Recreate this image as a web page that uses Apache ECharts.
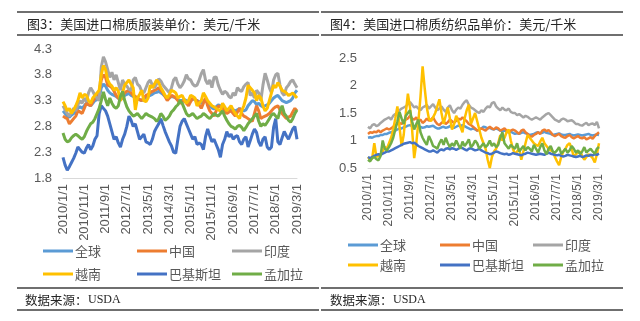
<!DOCTYPE html>
<html>
<head>
<meta charset="utf-8">
<script src="https://cdn.jsdelivr.net/npm/echarts@6/dist/echarts.min.js"></script>
<style>
  html, body { margin: 0; padding: 0; background: #fff; }
  #chart { width: 640px; height: 321px; }
</style>
</head>
<body>
<div id="chart"></div>
<script>
// Monthly categories, 2010/1 to 2019/3
const startYear = 2010, startMonth = 1, monthCount = 111;
const months = [];
for (let i = 0; i < monthCount; i++) {
  const y = startYear + Math.floor((startMonth - 1 + i) / 12);
  const m = ((startMonth - 1 + i) % 12) + 1;
  months.push(y + '/' + m + '/1');
}

const seriesNames = ['全球', '中国', '印度', '越南', '巴基斯坦', '孟加拉'];
const seriesColors = ['#5B9BD5', '#ED7D31', '#A5A5A5', '#FFC000', '#4472C4', '#70AD47'];

const titleApparel = '图3：美国进口棉质服装单价：美元/千米';
const titleTextile = '图4：美国进口棉质纺织品单价：美元/千米';
const sourceLabel = '数据来源：';
const sourceName = 'USDA';

// Fig.3 apparel unit prices (USD)
const apparelGlobal = [
  3.10, 3.05, 3.00, 2.98, 3.02, 3.05, 3.08, 3.15, 3.18, 3.15,
  3.20, 3.25, 3.22, 3.20, 3.25, 3.30, 3.32, 3.35, 3.55, 3.62,
  3.58, 3.50, 3.45, 3.42, 3.40, 3.38, 3.35, 3.32, 3.36, 3.40,
  3.42, 3.44, 3.40, 3.38, 3.35, 3.33, 3.32, 3.30, 3.33, 3.36,
  3.38, 3.40, 3.42, 3.45, 3.46, 3.48, 3.45, 3.42, 3.38, 3.34,
  3.36, 3.38, 3.37, 3.35, 3.32, 3.30, 3.30, 3.32, 3.30, 3.28,
  3.30, 3.33, 3.32, 3.30, 3.28, 3.25, 3.28, 3.32, 3.26, 3.20,
  3.16, 3.14, 3.18, 3.22, 3.20, 3.18, 3.15, 3.12, 3.14, 3.15,
  3.12, 3.10, 3.12, 3.15, 3.12, 3.10, 3.12, 3.20, 3.25, 3.30,
  3.28, 3.22, 3.25, 3.20, 3.18, 3.20, 3.22, 3.25, 3.30, 3.35,
  3.38, 3.40, 3.35, 3.30, 3.28, 3.26, 3.28, 3.30, 3.35, 3.45, 3.50
];
const apparelChina = [
  3.00, 2.97, 2.95, 2.85, 2.90, 2.95, 3.00, 3.10, 3.08, 3.05,
  3.15, 3.25, 3.22, 3.20, 3.28, 3.35, 3.40, 3.45, 3.70, 3.80,
  3.75, 3.60, 3.58, 3.55, 3.48, 3.40, 3.35, 3.30, 3.38, 3.45,
  3.48, 3.50, 3.45, 3.40, 3.38, 3.35, 3.32, 3.30, 3.35, 3.40,
  3.42, 3.45, 3.48, 3.50, 3.52, 3.55, 3.50, 3.45, 3.38, 3.30,
  3.35, 3.40, 3.38, 3.35, 3.30, 3.25, 3.28, 3.30, 3.25, 3.20,
  3.28, 3.35, 3.32, 3.30, 3.22, 3.15, 3.25, 3.35, 3.20, 3.10,
  3.05, 3.00, 3.10, 3.20, 3.18, 3.15, 3.10, 3.05, 3.08, 3.10,
  3.05, 3.00, 3.08, 3.15, 3.05, 3.00, 2.98, 2.95, 2.92, 2.90,
  3.05, 3.20, 3.10, 2.95, 2.98, 3.00, 3.02, 3.05, 3.10, 3.15,
  3.18, 3.20, 3.12, 3.05, 3.00, 2.95, 2.98, 3.00, 3.08, 3.15, 3.10
];
const apparelIndia = [
  3.20, 3.12, 3.05, 3.00, 3.08, 3.15, 3.10, 3.22, 3.30, 3.25,
  3.35, 3.28, 3.45, 3.55, 3.48, 3.40, 3.35, 3.30, 3.95, 4.15,
  4.05, 3.90, 3.75, 3.85, 3.70, 3.80, 3.65, 3.50, 3.70, 3.62,
  3.58, 3.52, 3.50, 3.70, 3.75, 3.62, 3.58, 3.48, 3.45, 3.55,
  3.65, 3.70, 3.60, 3.55, 3.62, 3.72, 3.68, 3.60, 3.55, 3.50,
  3.45, 3.55, 3.70, 3.75, 3.62, 3.55, 3.60, 3.68, 3.80, 3.72,
  3.70, 3.62, 3.58, 3.60, 3.70, 3.82, 3.90, 3.70, 3.62, 3.70,
  3.55, 3.75, 3.76, 3.60, 3.50, 3.42, 3.48, 3.45, 3.38, 3.35,
  3.45, 3.40, 3.55, 3.50, 3.48, 3.57, 3.62, 3.65, 3.40, 3.45,
  3.35, 3.50, 3.45, 3.30, 3.60, 3.83, 3.70, 3.55, 3.45, 3.70,
  3.80, 3.83, 3.60, 3.45, 3.40, 3.55, 3.60, 3.67, 3.70, 3.62, 3.55
];
const apparelVietnam = [
  3.28, 3.20, 3.10, 3.15, 3.05, 3.12, 3.20, 3.30, 3.45, 3.35,
  3.42, 3.40, 3.30, 3.25, 3.35, 3.40, 3.45, 3.50, 3.80, 3.98,
  3.90, 3.70, 3.62, 3.58, 3.50, 3.55, 3.48, 3.30, 3.45, 3.60,
  3.65, 3.70, 3.62, 3.55, 3.12, 3.35, 3.42, 3.50, 3.30, 3.28,
  3.35, 3.60, 3.55, 3.62, 3.70, 3.65, 3.55, 3.48, 3.40, 3.35,
  3.42, 3.50, 3.48, 3.45, 3.35, 3.38, 3.40, 3.32, 3.25, 3.30,
  3.40, 3.38, 3.35, 3.20, 3.25, 3.30, 3.45, 3.38, 3.30, 3.25,
  3.20, 3.18, 3.15, 3.12, 3.10, 3.25, 3.18, 3.10, 3.15, 3.20,
  3.12, 3.05, 3.00, 2.95, 3.10, 3.20, 3.35, 3.60, 3.55, 3.50,
  3.45, 3.30, 3.40, 3.35, 3.20, 3.10, 3.15, 3.30, 3.45, 3.60,
  3.55, 3.65, 3.58, 3.50, 3.48, 3.45, 3.40, 3.42, 3.45, 3.40, 3.35
];
const apparelPakistan = [
  2.20, 2.05, 1.95, 2.02, 2.10, 2.18, 2.28, 2.40, 2.35, 2.30,
  2.28, 2.38, 2.45, 2.35, 2.42, 2.55, 2.62, 3.05, 3.20, 3.15,
  3.10, 3.00, 2.85, 2.70, 2.55, 2.60, 2.48, 2.40, 2.55, 2.65,
  2.80, 3.00, 2.92, 2.80, 2.85, 2.70, 2.55, 2.60, 2.65, 2.50,
  2.48, 2.45, 2.55, 2.70, 2.78, 2.85, 2.95, 2.82, 2.70, 2.60,
  2.50, 2.42, 2.30, 2.28, 2.55, 2.80, 2.90, 2.95, 2.85, 2.75,
  2.65, 2.55, 2.60, 2.45, 2.48, 2.45, 2.35, 2.60, 2.75, 2.62,
  2.50, 2.55, 2.45, 2.35, 2.20, 2.45, 2.55, 2.70, 2.60, 2.65,
  2.55, 2.60, 2.62, 2.50, 2.45, 2.55, 2.60, 2.40, 2.52, 2.65,
  2.75, 2.68, 2.50, 2.42, 2.55, 2.60, 2.40, 2.35, 2.40, 2.78,
  2.95, 2.50, 2.45, 2.58, 2.70, 2.62, 2.55, 2.65, 2.75, 2.80, 2.55
];
const apparelBangladesh = [
  2.67, 2.55, 2.50, 2.52, 2.58, 2.62, 2.65, 2.62, 2.58, 2.55,
  2.60, 2.70, 2.78, 2.85, 2.88, 2.95, 3.05, 3.15, 3.30, 3.47,
  3.32, 3.20, 3.35, 3.25, 3.18, 3.15, 3.20, 3.38, 3.48, 3.30,
  3.18, 3.10, 3.05, 3.00, 3.02, 3.05, 3.00, 2.95, 3.00, 3.05,
  3.02, 3.00, 2.98, 2.95, 2.90, 2.95, 3.05, 3.00, 2.92, 2.95,
  3.00, 3.08, 3.12, 3.18, 3.22, 3.30, 3.25, 3.15, 3.05, 3.00,
  3.02, 3.05, 3.00, 2.95, 2.98, 3.00, 3.05, 3.02, 2.98, 2.95,
  3.00, 3.05, 3.02, 3.00, 3.05, 3.10, 3.00, 2.92, 2.85, 2.80,
  2.78, 2.75, 2.80, 2.82, 2.78, 2.72, 2.78, 2.85, 2.90, 2.95,
  3.00, 3.05, 2.90, 2.80, 2.85, 2.82, 2.88, 2.95, 3.02, 3.05,
  3.00, 2.95, 3.10, 3.20, 3.05, 3.00, 2.92, 2.88, 2.95, 3.05, 3.12
];

// Fig.4 textile unit prices (USD)
const textileGlobal = [
  1.05, 1.06, 1.05, 1.07, 1.08, 1.08, 1.10, 1.10, 1.12, 1.12,
  1.14, 1.15, 1.16, 1.18, 1.20, 1.22, 1.22, 1.24, 1.25, 1.27,
  1.28, 1.26, 1.25, 1.27, 1.24, 1.25, 1.23, 1.24, 1.26, 1.25,
  1.26, 1.27, 1.24, 1.22, 1.22, 1.24, 1.25, 1.23, 1.24, 1.26,
  1.25, 1.23, 1.25, 1.27, 1.26, 1.28, 1.26, 1.24, 1.22, 1.20,
  1.22, 1.20, 1.18, 1.20, 1.22, 1.25, 1.24, 1.22, 1.23, 1.21,
  1.20, 1.22, 1.20, 1.18, 1.17, 1.18, 1.16, 1.15, 1.16, 1.14,
  1.12, 1.13, 1.12, 1.14, 1.15, 1.13, 1.12, 1.10, 1.11, 1.12,
  1.14, 1.15, 1.13, 1.14, 1.16, 1.14, 1.13, 1.12, 1.10, 1.11,
  1.12, 1.13, 1.11, 1.10, 1.10, 1.11, 1.12, 1.10, 1.09, 1.10,
  1.11, 1.10, 1.09, 1.10, 1.11, 1.12, 1.10, 1.09, 1.10, 1.11, 1.10
];
const textileChina = [
  1.12, 1.15, 1.14, 1.16, 1.15, 1.18, 1.15, 1.18, 1.20, 1.22,
  1.20, 1.22, 1.25, 1.28, 1.30, 1.32, 1.30, 1.35, 1.38, 1.40,
  1.45, 1.40, 1.38, 1.42, 1.35, 1.38, 1.32, 1.35, 1.40, 1.36,
  1.38, 1.42, 1.35, 1.30, 1.28, 1.32, 1.35, 1.30, 1.33, 1.38,
  1.35, 1.32, 1.36, 1.40, 1.38, 1.42, 1.38, 1.35, 1.30, 1.28,
  1.25, 1.22, 1.18, 1.20, 1.22, 1.20, 1.18, 1.22, 1.25, 1.22,
  1.20, 1.24, 1.22, 1.18, 1.20, 1.22, 1.18, 1.15, 1.18, 1.20,
  1.18, 1.15, 1.12, 1.18, 1.20, 1.15, 1.12, 1.08, 1.07, 1.10,
  1.12, 1.15, 1.12, 1.18, 1.20, 1.17, 1.19, 1.15, 1.10, 1.08,
  1.10, 1.12, 1.08, 1.06, 1.05, 1.08, 1.10, 1.06, 1.04, 1.06,
  1.08, 1.05, 1.04, 1.06, 1.02, 1.04, 1.06, 1.03, 1.08, 1.12, 1.15
];
const textileIndia = [
  1.25, 1.22, 1.28, 1.30, 1.26, 1.28, 1.32, 1.35, 1.38, 1.40,
  1.42, 1.38, 1.45, 1.48, 1.50, 1.55, 1.58, 1.60, 1.62, 1.66,
  1.70, 1.65, 1.60, 1.62, 1.58, 1.55, 1.60, 1.62, 1.65, 1.58,
  1.62, 1.66, 1.60, 1.55, 1.58, 1.62, 1.56, 1.52, 1.60, 1.64,
  1.55, 1.50, 1.56, 1.60, 1.58, 1.65, 1.70, 1.73, 1.65, 1.60,
  1.58, 1.55, 1.52, 1.50, 1.55, 1.52, 1.58, 1.62, 1.60, 1.68,
  1.70, 1.62, 1.58, 1.55, 1.60, 1.56, 1.55, 1.58, 1.52, 1.50,
  1.50, 1.46, 1.48, 1.45, 1.42, 1.45, 1.43, 1.40, 1.38, 1.40,
  1.42, 1.40, 1.38, 1.42, 1.45, 1.48, 1.50, 1.46, 1.42, 1.38,
  1.36, 1.34, 1.38, 1.40, 1.38, 1.35, 1.36, 1.37, 1.34, 1.30,
  1.30, 1.28, 1.27, 1.30, 1.32, 1.28, 1.30, 1.31, 1.28, 1.34, 1.22
];
const textileVietnam = [
  0.70, 0.65, 0.68, 0.95, 0.70, 0.72, 0.75, 0.80, 0.88, 0.85,
  0.95, 1.05, 1.20, 1.40, 1.62, 1.25, 0.90, 1.10, 1.50, 1.85,
  1.60, 1.20, 0.68, 0.95, 1.35, 1.80, 2.35, 1.95, 1.60, 1.40,
  1.35, 1.42, 1.50, 1.62, 1.75, 1.50, 1.30, 1.45, 1.60, 1.40,
  1.20, 1.30, 1.45, 1.35, 1.25, 1.15, 1.40, 1.55, 1.65, 1.30,
  1.40, 1.50, 1.35, 1.20, 1.05, 0.95, 0.85, 0.65, 0.50, 0.70,
  0.80, 0.85, 0.95, 1.10, 1.00, 1.05, 1.15, 1.20, 1.00, 0.85,
  0.75, 0.80, 0.85, 0.65, 0.80, 0.95, 1.10, 1.05, 1.00, 0.95,
  0.92, 0.90, 0.98, 1.05, 0.95, 0.90, 0.85, 0.82, 0.80, 0.70,
  0.62, 0.55, 0.70, 0.80, 0.85, 0.92, 0.95, 0.85, 0.70, 0.75,
  0.78, 0.80, 0.72, 0.65, 0.70, 0.75, 0.72, 0.68, 0.60, 0.75, 0.95
];
const textilePakistan = [
  0.70, 0.68, 0.70, 0.72, 0.74, 0.75, 0.74, 0.76, 0.78, 0.80,
  0.80, 0.82, 0.84, 0.86, 0.88, 0.90, 0.92, 0.94, 0.95, 0.96,
  0.97, 0.95, 0.96, 0.93, 0.90, 0.88, 0.86, 0.84, 0.82, 0.80,
  0.80, 0.82, 0.80, 0.78, 0.82, 0.84, 0.82, 0.85, 0.86, 0.84,
  0.86, 0.85, 0.83, 0.85, 0.87, 0.86, 0.84, 0.82, 0.85, 0.86,
  0.84, 0.82, 0.83, 0.85, 0.82, 0.80, 0.78, 0.77, 0.75, 0.76,
  0.78, 0.80, 0.79, 0.77, 0.76, 0.75, 0.76, 0.74, 0.75, 0.77,
  0.76, 0.75, 0.74, 0.73, 0.75, 0.76, 0.78, 0.77, 0.76, 0.75,
  0.74, 0.75, 0.76, 0.75, 0.74, 0.76, 0.78, 0.76, 0.75, 0.74,
  0.73, 0.74, 0.72, 0.71, 0.72, 0.74, 0.73, 0.72, 0.71, 0.70,
  0.71, 0.72, 0.70, 0.71, 0.73, 0.72, 0.74, 0.73, 0.75, 0.74, 0.76
];
const textileBangladesh = [
  0.65, 0.62, 0.68, 0.70, 0.66, 0.64, 0.72, 1.00, 0.85, 0.82,
  0.88, 0.95, 1.05, 1.20, 1.35, 1.52, 1.40, 1.30, 1.45, 1.50,
  1.55, 1.35, 1.20, 1.30, 1.38, 1.15, 1.05, 0.98, 0.92, 1.08,
  1.00, 0.90, 0.88, 0.85, 0.95, 1.02, 0.92, 1.05, 0.95, 0.88,
  0.95, 0.90, 1.00, 0.92, 0.85, 0.98, 0.90, 0.95, 1.02, 0.88,
  0.92, 1.00, 0.95, 0.85, 0.90, 0.95, 0.88, 0.92, 1.00, 0.90,
  0.95, 0.88, 0.92, 1.05, 1.15, 0.95, 0.90, 0.85, 0.92, 0.88,
  0.85, 0.95, 0.80, 0.85, 0.90, 0.82, 0.88, 0.85, 0.80, 0.92,
  0.85, 0.78, 0.88, 0.95, 0.82, 0.75, 0.85, 0.90, 0.80, 0.78,
  0.82, 0.88, 0.76, 0.80, 0.85, 0.78, 0.82, 0.90, 0.85, 0.78,
  0.82, 0.75, 0.80, 0.88, 0.78, 0.82, 0.85, 0.80, 0.76, 0.85, 0.88
];

const apparelData = [apparelGlobal, apparelChina, apparelIndia, apparelVietnam, apparelPakistan, apparelBangladesh];
const textileData = [textileGlobal, textileChina, textileIndia, textileVietnam, textilePakistan, textileBangladesh];

const axisFont = 'Liberation Sans, Arial, sans-serif';
const cjkFont = '"Noto Sans CJK SC", sans-serif';
const labelColor = '#595959';

function makeXAxis(gridIndex, fontSize) {
  return {
    type: 'category', gridIndex, data: months, boundaryGap: false,
    axisLine: { lineStyle: { color: '#D9D9D9', width: 1 } },
    axisTick: { show: false },
    axisLabel: { interval: 9, rotate: 90, margin: 6, color: labelColor, fontSize, fontFamily: axisFont }
  };
}
function makeYAxis(gridIndex, min, max) {
  return {
    type: 'value', gridIndex, min, max, interval: 0.5,
    axisLine: { show: false }, axisTick: { show: false }, splitLine: { show: false },
    axisLabel: { margin: 11, color: labelColor, fontSize: 13, fontFamily: axisFont }
  };
}
function makeSeries(dataSet, axisIndex, width) {
  return dataSet.map((d, i) => ({
    name: seriesNames[i], type: 'line', data: d,
    xAxisIndex: axisIndex, yAxisIndex: axisIndex,
    symbol: 'none', smooth: false, animation: false,
    lineStyle: { width, color: seriesColors[i] },
    itemStyle: { color: seriesColors[i] }
  }));
}
// three legend columns per chart, two rows each; icons are flat strokes
function makeLegends(lefts, top, gap, stroke) {
  const cols = [[0, 3], [1, 4], [2, 5]];
  return cols.map((c, k) => ({
    orient: 'vertical', left: lefts[k], top, itemGap: gap,
    icon: 'rect', itemWidth: 30, itemHeight: stroke, selectedMode: false,
    data: c.map(i => seriesNames[i]),
    textStyle: { color: labelColor, fontSize: 13, lineHeight: 16, fontFamily: cjkFont, padding: [0, 0, 0, -3] }
  }));
}
function rule(x1, x2, y) {
  return { type: 'line', shape: { x1, y1: y, x2, y2: y }, style: { stroke: '#3F3F3F', lineWidth: 1.5 }, silent: true };
}
function text(x, y, str, font) {
  return { type: 'text', x, y, style: { text: str, font, fill: '#262626', textVerticalAlign: 'middle' }, silent: true };
}

const chart = echarts.init(document.getElementById('chart'), null, { renderer: 'canvas' });
chart.setOption({
  animation: false,
  backgroundColor: '#ffffff',
  grid: [
    { left: 63, right: 343, top: 49, bottom: 143 },
    { left: 368, right: 41, top: 58, bottom: 153 }
  ],
  xAxis: [makeXAxis(0, 13), makeXAxis(1, 12)],
  yAxis: [makeYAxis(0, 1.8, 4.3), makeYAxis(1, 0.5, 2.5)],
  legend: [].concat(
    makeLegends([38, 132, 227], 238, 7, 3),
    makeLegends([343, 435, 528], 232, 4, 3)
  ),
  series: [].concat(makeSeries(apparelData, 0, 3), makeSeries(textileData, 1, 2.5)),
  graphic: [
    rule(17, 319, 12), rule(17, 319, 35), rule(17, 319, 288), rule(17, 319, 310),
    rule(321, 623, 12), rule(321, 623, 35), rule(321, 623, 288), rule(321, 623, 310),
    text(27, 24, titleApparel, '13px ' + cjkFont),
    text(330, 24, titleTextile, '13px ' + cjkFont),
    text(25, 300, sourceLabel, '12.5px ' + cjkFont),
    text(88, 300, sourceName, '12px "Liberation Serif", serif'),
    text(330, 300, sourceLabel, '12.5px ' + cjkFont),
    text(393, 300, sourceName, '12px "Liberation Serif", serif')
  ]
});
</script>
</body>
</html>
